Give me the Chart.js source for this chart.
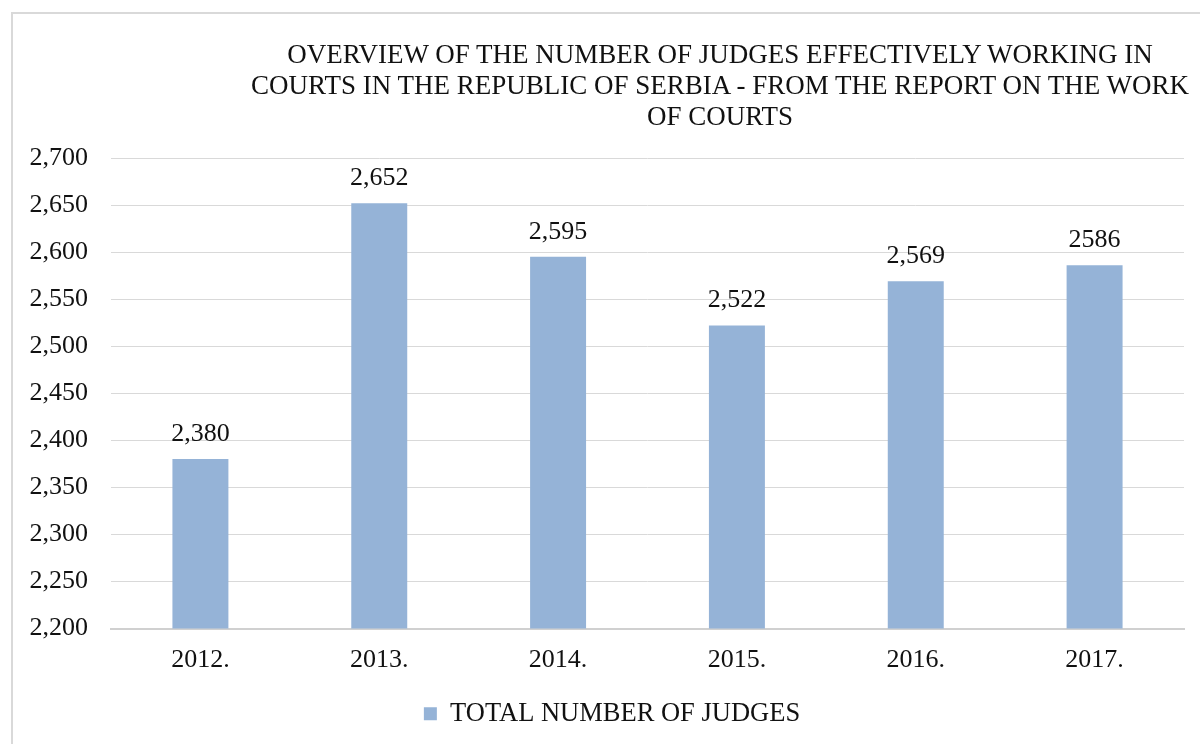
<!DOCTYPE html>
<html>
<head>
<meta charset="utf-8">
<script src="https://cdn.jsdelivr.net/npm/chart.js@4.4.1/dist/chart.umd.min.js"></script>
<style>
  html, body { margin: 0; padding: 0; background: #fff; overflow: hidden; }
  #wrap { position: relative; width: 1200px; height: 744px; }
  #frame { position: absolute; left: 11px; top: 12px; width: 1300px; height: 800px; border: 2px solid #d9d9d9; box-sizing: border-box; }
  #title { position: absolute; left: 220px; width: 1000px; top: 39px; text-align: center; white-space: nowrap;
    font: 27px 'Liberation Serif', 'Times New Roman', serif; line-height: 31px; color: #111; }
  canvas { position: absolute; left: 0; top: 0; }
</style>
</head>
<body>
<div id="wrap">
  <div id="frame"></div>
  <canvas id="judgesChart" width="1200" height="744"></canvas>
  <div id="title">OVERVIEW OF THE NUMBER OF JUDGES EFFECTIVELY WORKING IN<br>COURTS IN THE REPUBLIC OF SERBIA - FROM THE REPORT ON THE WORK<br>OF COURTS</div>
</div>
<script>
/* ── data ── */
const years = ['2012.', '2013.', '2014.', '2015.', '2016.', '2017.'];
const judges = [2380, 2652, 2595, 2522, 2569, 2586];
const judgeLabels = ['2,380', '2,652', '2,595', '2,522', '2,569', '2586'];
const yTicks = [2200, 2250, 2300, 2350, 2400, 2450, 2500, 2550, 2600, 2650, 2700];

const SERIF = "'Liberation Serif', 'Times New Roman', serif";
const INK = '#111';

/* value labels above bars */
const barLabels = {
  id: 'barLabels',
  afterDatasetsDraw(chart) {
    const ctx = chart.ctx;
    const meta = chart.getDatasetMeta(0);
    ctx.save();
    ctx.font = '26px ' + SERIF;
    ctx.fillStyle = INK;
    ctx.textAlign = 'center';
    ctx.textBaseline = 'alphabetic';
    meta.data.forEach((bar, i) => {
      ctx.fillText(judgeLabels[i], bar.x, bar.y - 18);
    });
    ctx.restore();
  }
};

/* y labels hang left of the 40px padding; widen the axis box so they are not clipped */
const unclipY = {
  id: 'unclipY',
  afterLayout(chart) { chart.scales.y.left = 0; }
};

new Chart(document.getElementById('judgesChart'), {
  type: 'bar',
  data: {
    labels: years,
    datasets: [{
      label: 'TOTAL NUMBER OF JUDGES',
      data: judges,
      backgroundColor: '#95b3d7',
      borderWidth: 0,
      barPercentage: 0.313,
      categoryPercentage: 1
    }]
  },
  options: {
    responsive: false,
    animation: false,
    layout: { padding: { top: 158, right: 16, left: 40, bottom: 7 } },
    plugins: {
      title: { display: false },
      tooltip: { enabled: false },
      legend: {
        position: 'bottom',
        labels: { boxWidth: 13, boxHeight: 13, color: INK, font: { family: SERIF, size: 26.5 }, padding: 18 }
      }
    },
    scales: {
      x: {
        afterFit(scale) { scale.height = 54; },
        grid: { display: false, drawTicks: false },
        border: { display: true, color: '#d0d0d0', width: 2 },
        ticks: { color: INK, font: { family: SERIF, size: 26 }, padding: 16 }
      },
      y: {
        min: 2200, max: 2700,
        afterFit(scale) { scale.width = 71; },
        afterBuildTicks(scale) { scale.ticks = yTicks.map(v => ({ value: v })); },
        grid: { color: '#d9d9d9', lineWidth: 1, drawTicks: false },
        border: { display: false },
        ticks: {
          color: INK, font: { family: SERIF, size: 26 }, padding: 23,
          callback: v => v.toLocaleString('en-US')
        }
      }
    }
  },
  plugins: [barLabels, unclipY]
});
</script>
</body>
</html>
